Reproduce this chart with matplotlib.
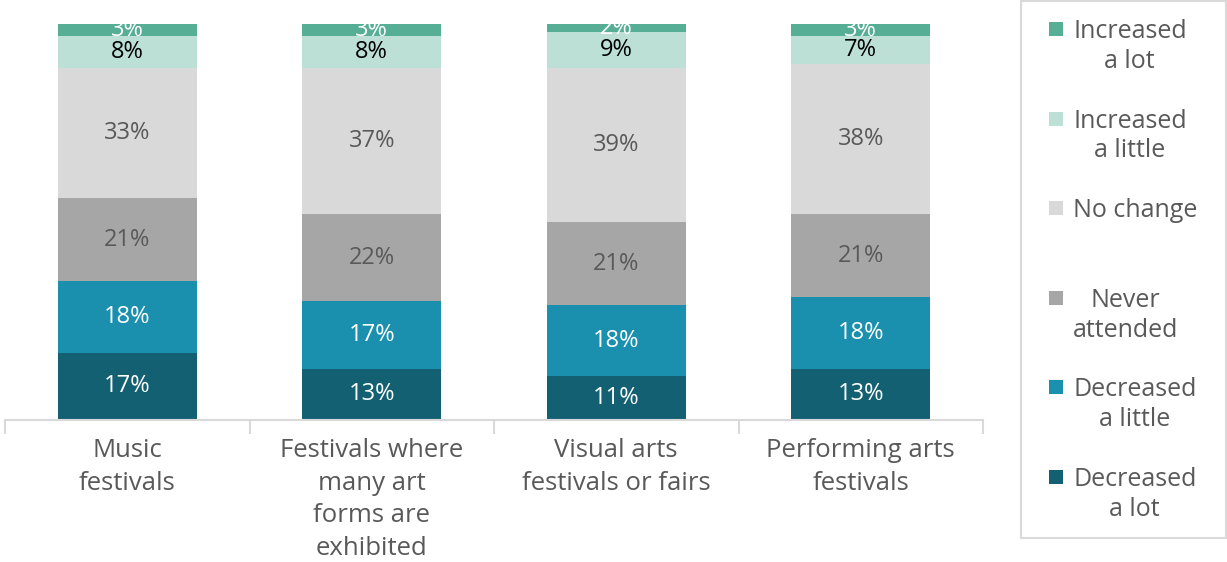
import numpy as np
import matplotlib.pyplot as plt
from matplotlib.patches import Rectangle

# Chart data
categories = ["Music\nfestivals", "Festivals where\nmany art\nforms are\nexhibited",
              "Visual arts\nfestivals or fairs", "Performing arts\nfestivals"]
series_names = ["Decreased\na lot", "Decreased\na little", "Never\nattended",
                "No change", "Increased\na little", "Increased\na lot"]
decreased_lot = [17, 13, 11, 13]
decreased_little = [18, 17, 18, 18]
never_attended = [21, 22, 21, 21]
no_change = [33, 37, 39, 38]
increased_little = [8, 8, 9, 7]
increased_lot = [3, 3, 2, 3]

series = [decreased_lot, decreased_little, never_attended, no_change,
          increased_little, increased_lot]
colors = ["#136072", "#1b8fae", "#a6a6a6", "#d9d9d9", "#bde0d6", "#56ae95"]
label_colors = ["white", "white", "#595959", "#595959", "black", "white"]

plt.rcParams['font.family'] = ['Open Sans', 'DejaVu Sans']

W, H = 1227, 562
fig = plt.figure(figsize=(W / 100, H / 100), dpi=100)
ax = fig.add_axes([5 / W, 1 - 420 / H, 978 / W, 396 / H])

x = np.arange(len(categories))
bottom = np.zeros(len(categories))
for vals, col, lc in zip(series, colors, label_colors):
    vals = np.array(vals, dtype=float)
    ax.bar(x, vals, bottom=bottom, width=0.567, color=col, edgecolor='none')
    for xi, b, v in zip(x, bottom, vals):
        ax.text(xi, b + v / 2, f"{int(v)}%", ha='center', va='center',
                fontsize=17, color=lc)
    bottom += vals

ax.set_xlim(-0.5, 3.5)
ax.set_ylim(0, 100)
ax.set_yticks([])
for s in ['top', 'right', 'left']:
    ax.spines[s].set_visible(False)
ax.spines['bottom'].set_color('#d9d9d9')
ax.spines['bottom'].set_linewidth(1.5)

# category ticks between bars
ax.set_xticks(x)
ax.set_xticklabels(categories, fontsize=18.5, color='#595959', linespacing=1.4)
ax.tick_params(axis='x', length=0, pad=13)
ax.set_xticks(np.arange(-0.5, 4, 1), minor=True)
ax.tick_params(axis='x', which='minor', length=10, width=1.5, color='#d9d9d9')

# legend drawn by hand, Excel-style
fig.patches.append(Rectangle((1021 / W, 1 - 538 / H), 205 / W, 537 / H,
                             transform=fig.transFigure, facecolor='white',
                             edgecolor='#d9d9d9', linewidth=1.5))
order = list(range(len(series_names)))[::-1]
for i, k in enumerate(order):
    y = 29 + 89.6 * i
    fig.patches.append(Rectangle((1049 / W, 1 - (y + 7) / H), 14 / W, 14 / H,
                                 transform=fig.transFigure, facecolor=colors[k],
                                 edgecolor='none'))
    fig.text(1073 / W, 1 - (y - 10) / H, series_names[k], ha='left', va='top',
             multialignment='center', fontsize=18, color='#595959',
             linespacing=1.25)

fig.savefig('out.png', dpi=100)
